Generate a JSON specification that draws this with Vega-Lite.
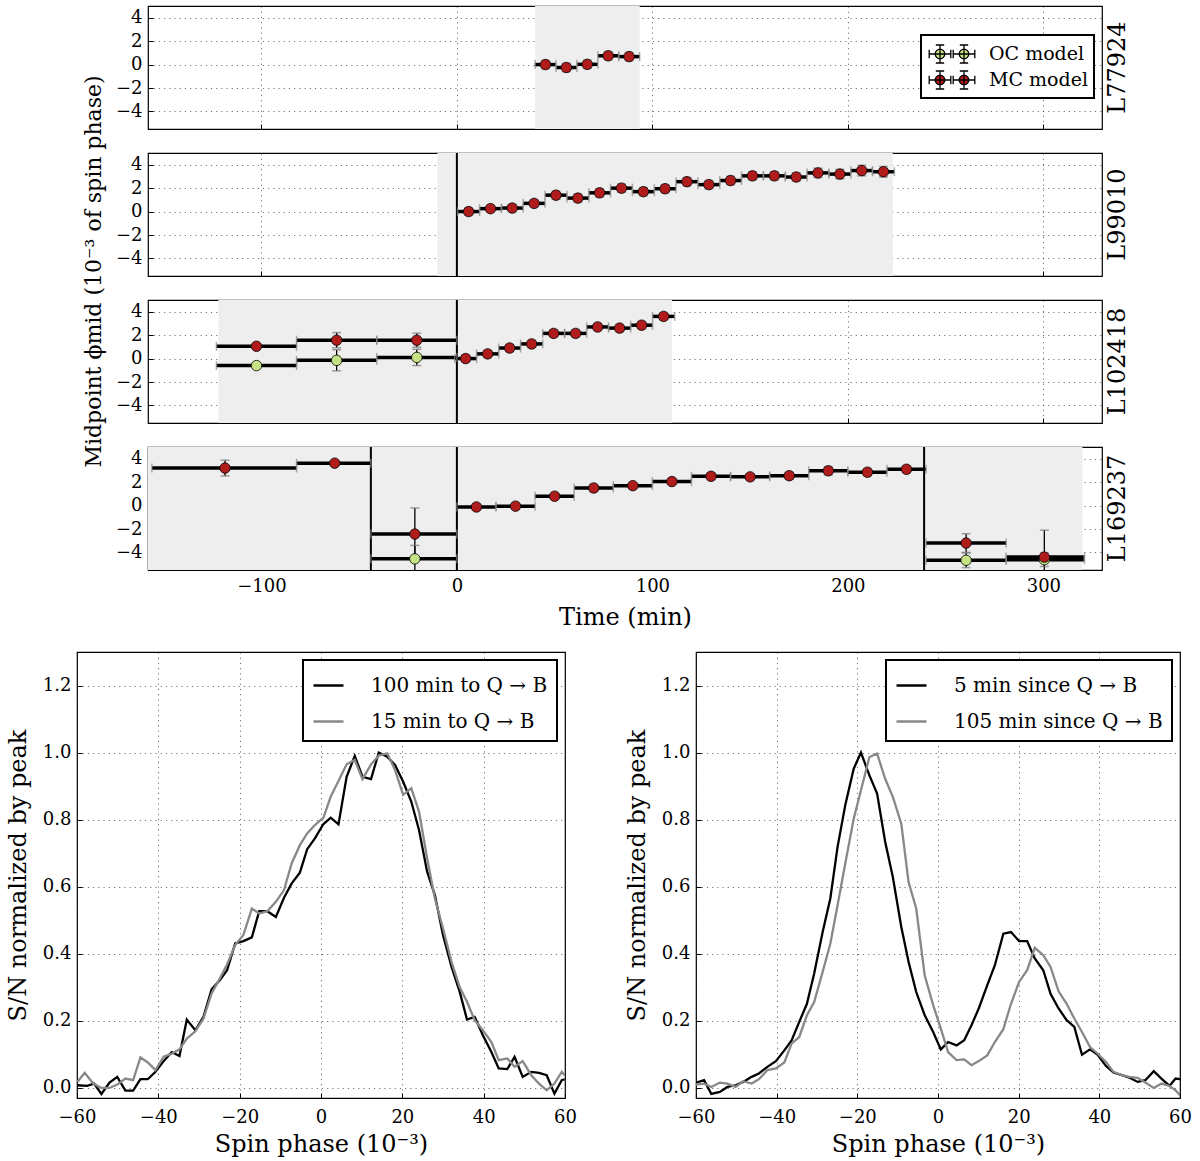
{
"$schema":"https://vega.github.io/schema/vega-lite/v6.json",
"padding":{"left":5,"top":5,"right":0,"bottom":0},
"config":{
 "font":"DejaVu Serif",
 "view":{"stroke":"black","strokeWidth":1.2},
 "style":{"guide-label":{"font":"DejaVu Serif","fontSize":18,"fill":"black"},"guide-title":{"font":"DejaVu Serif","fontSize":24,"fill":"black","fontWeight":"normal"}},
 "axis":{"grid":true,"gridColor":"#000","gridOpacity":0.55,"gridDash":[1.2,4],"gridWidth":1,"domain":false,"tickColor":"black","tickSize":-5,"labelOverlap":false,"labelFlush":false,"labelFont":"DejaVu Serif","titleFont":"DejaVu Serif","labelFontSize":18,"titleFontSize":24,"labelColor":"black","titleColor":"black","titleFontWeight":"normal"},
 "axisX":{"labelFont":"DejaVu Serif","labelFontSize":18,"labelOverlap":false,"labelFlush":false,"labelPadding":12},
 "axisY":{"labelFont":"DejaVu Serif","labelFontSize":18,"labelOverlap":false,"labelPadding":11},
 "legend":{"labelFont":"DejaVu Serif","labelColor":"black","strokeWidth":2,"labelLimit":400},
 "title":{"font":"DejaVu Serif","fontSize":24,"fontWeight":"normal","color":"black"}
},
"datasets":{
"top":[
{"run":"L77924","kind":"shade","t0":40,"t1":93.5},
{"run":"L99010","kind":"shade","t0":-10,"t1":223},
{"run":"L102418","kind":"shade","t0":-122,"t1":110},
{"run":"L169237","kind":"shade","t0":-160,"t1":320},
{"run":"L99010","kind":"vline","t":0},
{"run":"L102418","kind":"vline","t":0},
{"run":"L169237","kind":"vline","t":-44},
{"run":"L169237","kind":"vline","t":0},
{"run":"L169237","kind":"vline","t":239},
{"run":"L77924","kind":"pt","model":"MC model","t":45.3,"t0":40,"t1":50.7,"y":0.0,"ylo":-0.35,"yhi":0.35},
{"run":"L77924","kind":"pt","model":"MC model","t":56.0,"t0":50.7,"t1":61.4,"y":-0.25,"ylo":-0.6,"yhi":0.1},
{"run":"L77924","kind":"pt","model":"MC model","t":66.7,"t0":61.4,"t1":72.1,"y":0.02,"ylo":-0.33,"yhi":0.37},
{"run":"L77924","kind":"pt","model":"MC model","t":77.4,"t0":72.1,"t1":82.8,"y":0.75,"ylo":0.4,"yhi":1.1},
{"run":"L77924","kind":"pt","model":"MC model","t":88.1,"t0":82.8,"t1":93.5,"y":0.68,"ylo":0.33,"yhi":1.03},
{"run":"L99010","kind":"pt","model":"MC model","t":6.0,"t0":0.4,"t1":11.6,"y":0.0,"ylo":-0.3,"yhi":0.3},
{"run":"L99010","kind":"pt","model":"MC model","t":17.2,"t0":11.6,"t1":22.8,"y":0.25,"ylo":-0.05,"yhi":0.55},
{"run":"L99010","kind":"pt","model":"MC model","t":28.3,"t0":22.8,"t1":33.9,"y":0.3,"ylo":0.0,"yhi":0.6},
{"run":"L99010","kind":"pt","model":"MC model","t":39.5,"t0":33.9,"t1":45.1,"y":0.7,"ylo":0.4,"yhi":1.0},
{"run":"L99010","kind":"pt","model":"MC model","t":50.7,"t0":45.1,"t1":56.3,"y":1.4,"ylo":1.05,"yhi":1.75},
{"run":"L99010","kind":"pt","model":"MC model","t":61.9,"t0":56.3,"t1":67.5,"y":1.15,"ylo":0.8,"yhi":1.5},
{"run":"L99010","kind":"pt","model":"MC model","t":73.0,"t0":67.5,"t1":78.6,"y":1.6,"ylo":1.25,"yhi":1.95},
{"run":"L99010","kind":"pt","model":"MC model","t":84.2,"t0":78.6,"t1":89.8,"y":2.0,"ylo":1.65,"yhi":2.35},
{"run":"L99010","kind":"pt","model":"MC model","t":95.4,"t0":89.8,"t1":101.0,"y":1.7,"ylo":1.35,"yhi":2.05},
{"run":"L99010","kind":"pt","model":"MC model","t":106.5,"t0":101.0,"t1":112.1,"y":1.95,"ylo":1.6,"yhi":2.3},
{"run":"L99010","kind":"pt","model":"MC model","t":117.7,"t0":112.1,"t1":123.3,"y":2.55,"ylo":2.2,"yhi":2.9},
{"run":"L99010","kind":"pt","model":"MC model","t":128.9,"t0":123.3,"t1":134.5,"y":2.3,"ylo":1.95,"yhi":2.65},
{"run":"L99010","kind":"pt","model":"MC model","t":140.0,"t0":134.5,"t1":145.6,"y":2.65,"ylo":2.3,"yhi":3.0},
{"run":"L99010","kind":"pt","model":"MC model","t":151.2,"t0":145.6,"t1":156.8,"y":3.05,"ylo":2.7,"yhi":3.4},
{"run":"L99010","kind":"pt","model":"MC model","t":162.4,"t0":156.8,"t1":168.0,"y":3.05,"ylo":2.7,"yhi":3.4},
{"run":"L99010","kind":"pt","model":"MC model","t":173.6,"t0":168.0,"t1":179.1,"y":2.95,"ylo":2.6,"yhi":3.3},
{"run":"L99010","kind":"pt","model":"MC model","t":184.7,"t0":179.1,"t1":190.3,"y":3.3,"ylo":2.9,"yhi":3.7},
{"run":"L99010","kind":"pt","model":"MC model","t":195.9,"t0":190.3,"t1":201.5,"y":3.2,"ylo":2.8,"yhi":3.6},
{"run":"L99010","kind":"pt","model":"MC model","t":207.1,"t0":201.5,"t1":212.6,"y":3.5,"ylo":3.05,"yhi":3.95},
{"run":"L99010","kind":"pt","model":"MC model","t":218.2,"t0":212.6,"t1":223.8,"y":3.4,"ylo":2.95,"yhi":3.85},
{"run":"L102418","kind":"pt","model":"OC model","t":-102.5,"t0":-123,"t1":-82,"y":-0.6,"ylo":-0.85,"yhi":-0.35},
{"run":"L102418","kind":"pt","model":"OC model","t":-61.5,"t0":-82,"t1":-41,"y":-0.15,"ylo":-1.05,"yhi":0.75},
{"run":"L102418","kind":"pt","model":"OC model","t":-20.5,"t0":-41,"t1":0,"y":0.1,"ylo":-0.6,"yhi":0.8},
{"run":"L102418","kind":"pt","model":"MC model","t":-102.5,"t0":-123,"t1":-82,"y":1.05,"ylo":0.85,"yhi":1.25},
{"run":"L102418","kind":"pt","model":"MC model","t":-61.5,"t0":-82,"t1":-41,"y":1.57,"ylo":0.92,"yhi":2.22},
{"run":"L102418","kind":"pt","model":"MC model","t":-20.5,"t0":-41,"t1":0,"y":1.57,"ylo":0.97,"yhi":2.17},
{"run":"L102418","kind":"pt","model":"MC model","t":4.5,"t0":-1.1,"t1":10.1,"y":0.0,"ylo":-0.3,"yhi":0.3},
{"run":"L102418","kind":"pt","model":"MC model","t":15.75,"t0":10.1,"t1":21.4,"y":0.4,"ylo":0.1,"yhi":0.7},
{"run":"L102418","kind":"pt","model":"MC model","t":27.0,"t0":21.4,"t1":32.6,"y":0.9,"ylo":0.6,"yhi":1.2},
{"run":"L102418","kind":"pt","model":"MC model","t":38.25,"t0":32.6,"t1":43.9,"y":1.25,"ylo":0.95,"yhi":1.55},
{"run":"L102418","kind":"pt","model":"MC model","t":49.5,"t0":43.9,"t1":55.1,"y":2.15,"ylo":1.85,"yhi":2.45},
{"run":"L102418","kind":"pt","model":"MC model","t":60.75,"t0":55.1,"t1":66.4,"y":2.15,"ylo":1.85,"yhi":2.45},
{"run":"L102418","kind":"pt","model":"MC model","t":72.0,"t0":66.4,"t1":77.6,"y":2.7,"ylo":2.4,"yhi":3.0},
{"run":"L102418","kind":"pt","model":"MC model","t":83.25,"t0":77.6,"t1":88.9,"y":2.6,"ylo":2.3,"yhi":2.9},
{"run":"L102418","kind":"pt","model":"MC model","t":94.5,"t0":88.9,"t1":100.1,"y":2.85,"ylo":2.55,"yhi":3.15},
{"run":"L102418","kind":"pt","model":"MC model","t":105.75,"t0":100.1,"t1":111.4,"y":3.6,"ylo":3.3,"yhi":3.9},
{"run":"L169237","kind":"pt","model":"OC model","t":-21.5,"t0":-44,"t1":0,"y":-4.55,"ylo":-5.7,"yhi":-3.4},
{"run":"L169237","kind":"pt","model":"OC model","t":260.5,"t0":240,"t1":281,"y":-4.67,"ylo":-5.3,"yhi":-4.04},
{"run":"L169237","kind":"pt","model":"OC model","t":300.5,"t0":281,"t1":321,"y":-4.62,"ylo":-5.2,"yhi":-4.04},
{"run":"L169237","kind":"pt","model":"MC model","t":-118.6,"t0":-156,"t1":-82,"y":3.2,"ylo":2.53,"yhi":3.87},
{"run":"L169237","kind":"pt","model":"MC model","t":-62.5,"t0":-82,"t1":-44,"y":3.62,"ylo":3.42,"yhi":3.82},
{"run":"L169237","kind":"pt","model":"MC model","t":-21.5,"t0":-44,"t1":0,"y":-2.43,"ylo":-4.66,"yhi":-0.2},
{"run":"L169237","kind":"pt","model":"MC model","t":10,"t0":0,"t1":20,"y":-0.12,"ylo":-0.37,"yhi":0.13},
{"run":"L169237","kind":"pt","model":"MC model","t":30,"t0":20,"t1":40,"y":-0.05,"ylo":-0.3,"yhi":0.2},
{"run":"L169237","kind":"pt","model":"MC model","t":50,"t0":40,"t1":60,"y":0.8,"ylo":0.55,"yhi":1.05},
{"run":"L169237","kind":"pt","model":"MC model","t":70,"t0":60,"t1":80,"y":1.5,"ylo":1.2,"yhi":1.8},
{"run":"L169237","kind":"pt","model":"MC model","t":90,"t0":80,"t1":100,"y":1.7,"ylo":1.45,"yhi":1.95},
{"run":"L169237","kind":"pt","model":"MC model","t":110,"t0":100,"t1":120,"y":2.05,"ylo":1.8,"yhi":2.3},
{"run":"L169237","kind":"pt","model":"MC model","t":130,"t0":120,"t1":140,"y":2.5,"ylo":2.2,"yhi":2.8},
{"run":"L169237","kind":"pt","model":"MC model","t":150,"t0":140,"t1":160,"y":2.45,"ylo":2.2,"yhi":2.7},
{"run":"L169237","kind":"pt","model":"MC model","t":170,"t0":160,"t1":180,"y":2.55,"ylo":2.25,"yhi":2.85},
{"run":"L169237","kind":"pt","model":"MC model","t":190,"t0":180,"t1":200,"y":2.97,"ylo":2.62,"yhi":3.32},
{"run":"L169237","kind":"pt","model":"MC model","t":210,"t0":200,"t1":220,"y":2.85,"ylo":2.55,"yhi":3.15},
{"run":"L169237","kind":"pt","model":"MC model","t":230,"t0":220,"t1":240,"y":3.1,"ylo":2.8,"yhi":3.4},
{"run":"L169237","kind":"pt","model":"MC model","t":260.5,"t0":240,"t1":281,"y":-3.2,"ylo":-4.0,"yhi":-2.4},
{"run":"L169237","kind":"pt","model":"MC model","t":300.5,"t0":281,"t1":321,"y":-4.4,"ylo":-6.7,"yhi":-2.1}
],
"left":[
{"s":"100 min to Q → B","p":-59.9,"v":0.008},{"s":"100 min to Q → B","p":-57.5,"v":0.006},{"s":"100 min to Q → B","p":-55.8,"v":0.013},{"s":"100 min to Q → B","p":-54.0,"v":-0.018},{"s":"100 min to Q → B","p":-52.0,"v":0.016},{"s":"100 min to Q → B","p":-50.1,"v":0.033},{"s":"100 min to Q → B","p":-48.1,"v":-0.008},{"s":"100 min to Q → B","p":-46.2,"v":-0.008},{"s":"100 min to Q → B","p":-44.4,"v":0.026},{"s":"100 min to Q → B","p":-42.6,"v":0.026},{"s":"100 min to Q → B","p":-40.7,"v":0.048},{"s":"100 min to Q → B","p":-38.7,"v":0.080},{"s":"100 min to Q → B","p":-36.7,"v":0.107},{"s":"100 min to Q → B","p":-34.8,"v":0.095},{"s":"100 min to Q → B","p":-33.0,"v":0.204},{"s":"100 min to Q → B","p":-30.9,"v":0.172},{"s":"100 min to Q → B","p":-28.9,"v":0.212},{"s":"100 min to Q → B","p":-26.9,"v":0.294},{"s":"100 min to Q → B","p":-24.9,"v":0.321},{"s":"100 min to Q → B","p":-23.1,"v":0.351},{"s":"100 min to Q → B","p":-21.1,"v":0.431},{"s":"100 min to Q → B","p":-19.1,"v":0.438},{"s":"100 min to Q → B","p":-17.0,"v":0.449},{"s":"100 min to Q → B","p":-15.2,"v":0.527},{"s":"100 min to Q → B","p":-13.2,"v":0.527},{"s":"100 min to Q → B","p":-11.1,"v":0.510},{"s":"100 min to Q → B","p":-9.1,"v":0.567},{"s":"100 min to Q → B","p":-7.2,"v":0.610},{"s":"100 min to Q → B","p":-5.2,"v":0.642},{"s":"100 min to Q → B","p":-3.4,"v":0.712},{"s":"100 min to Q → B","p":-1.5,"v":0.744},{"s":"100 min to Q → B","p":0.6,"v":0.787},{"s":"100 min to Q → B","p":2.4,"v":0.806},{"s":"100 min to Q → B","p":4.3,"v":0.786},{"s":"100 min to Q → B","p":6.3,"v":0.928},{"s":"100 min to Q → B","p":8.3,"v":0.990},{"s":"100 min to Q → B","p":10.2,"v":0.928},{"s":"100 min to Q → B","p":12.3,"v":0.921},{"s":"100 min to Q → B","p":14.2,"v":1.000},{"s":"100 min to Q → B","p":16.3,"v":0.988},{"s":"100 min to Q → B","p":18.2,"v":0.963},{"s":"100 min to Q → B","p":20.2,"v":0.913},{"s":"100 min to Q → B","p":22.2,"v":0.854},{"s":"100 min to Q → B","p":24.1,"v":0.769},{"s":"100 min to Q → B","p":26.1,"v":0.645},{"s":"100 min to Q → B","p":28.0,"v":0.575},{"s":"100 min to Q → B","p":30.0,"v":0.456},{"s":"100 min to Q → B","p":32.1,"v":0.361},{"s":"100 min to Q → B","p":34.1,"v":0.287},{"s":"100 min to Q → B","p":35.9,"v":0.204},{"s":"100 min to Q → B","p":37.8,"v":0.212},{"s":"100 min to Q → B","p":39.8,"v":0.157},{"s":"100 min to Q → B","p":41.9,"v":0.107},{"s":"100 min to Q → B","p":43.7,"v":0.058},{"s":"100 min to Q → B","p":45.8,"v":0.056},{"s":"100 min to Q → B","p":47.6,"v":0.093},{"s":"100 min to Q → B","p":49.6,"v":0.033},{"s":"100 min to Q → B","p":51.7,"v":0.048},{"s":"100 min to Q → B","p":53.6,"v":0.045},{"s":"100 min to Q → B","p":55.5,"v":0.038},{"s":"100 min to Q → B","p":57.4,"v":-0.017},{"s":"100 min to Q → B","p":59.2,"v":0.023},{"s":"100 min to Q → B","p":59.9,"v":0.026},
{"s":"15 min to Q → B","p":-59.9,"v":0.018},{"s":"15 min to Q → B","p":-58.1,"v":0.045},{"s":"15 min to Q → B","p":-56.0,"v":0.013},{"s":"15 min to Q → B","p":-54.0,"v":0.0},{"s":"15 min to Q → B","p":-52.0,"v":0.0},{"s":"15 min to Q → B","p":-50.1,"v":0.01},{"s":"15 min to Q → B","p":-48.1,"v":0.028},{"s":"15 min to Q → B","p":-46.2,"v":0.023},{"s":"15 min to Q → B","p":-44.4,"v":0.091},{"s":"15 min to Q → B","p":-42.6,"v":0.076},{"s":"15 min to Q → B","p":-40.7,"v":0.053},{"s":"15 min to Q → B","p":-38.7,"v":0.093},{"s":"15 min to Q → B","p":-36.7,"v":0.102},{"s":"15 min to Q → B","p":-34.8,"v":0.115},{"s":"15 min to Q → B","p":-33.0,"v":0.147},{"s":"15 min to Q → B","p":-30.9,"v":0.169},{"s":"15 min to Q → B","p":-28.9,"v":0.207},{"s":"15 min to Q → B","p":-26.9,"v":0.282},{"s":"15 min to Q → B","p":-24.9,"v":0.326},{"s":"15 min to Q → B","p":-23.1,"v":0.368},{"s":"15 min to Q → B","p":-21.1,"v":0.426},{"s":"15 min to Q → B","p":-19.1,"v":0.456},{"s":"15 min to Q → B","p":-17.0,"v":0.535},{"s":"15 min to Q → B","p":-15.2,"v":0.520},{"s":"15 min to Q → B","p":-13.2,"v":0.527},{"s":"15 min to Q → B","p":-11.1,"v":0.555},{"s":"15 min to Q → B","p":-9.1,"v":0.590},{"s":"15 min to Q → B","p":-7.2,"v":0.670},{"s":"15 min to Q → B","p":-5.2,"v":0.724},{"s":"15 min to Q → B","p":-3.4,"v":0.759},{"s":"15 min to Q → B","p":-1.5,"v":0.784},{"s":"15 min to Q → B","p":0.6,"v":0.806},{"s":"15 min to Q → B","p":2.4,"v":0.869},{"s":"15 min to Q → B","p":4.3,"v":0.915},{"s":"15 min to Q → B","p":6.3,"v":0.965},{"s":"15 min to Q → B","p":8.3,"v":0.978},{"s":"15 min to Q → B","p":10.2,"v":0.921},{"s":"15 min to Q → B","p":12.3,"v":0.965},{"s":"15 min to Q → B","p":14.2,"v":0.991},{"s":"15 min to Q → B","p":16.3,"v":0.998},{"s":"15 min to Q → B","p":18.2,"v":0.948},{"s":"15 min to Q → B","p":20.2,"v":0.874},{"s":"15 min to Q → B","p":22.2,"v":0.894},{"s":"15 min to Q → B","p":24.1,"v":0.824},{"s":"15 min to Q → B","p":26.1,"v":0.685},{"s":"15 min to Q → B","p":28.0,"v":0.565},{"s":"15 min to Q → B","p":30.0,"v":0.476},{"s":"15 min to Q → B","p":32.1,"v":0.376},{"s":"15 min to Q → B","p":34.1,"v":0.301},{"s":"15 min to Q → B","p":35.9,"v":0.257},{"s":"15 min to Q → B","p":37.8,"v":0.202},{"s":"15 min to Q → B","p":39.8,"v":0.172},{"s":"15 min to Q → B","p":41.9,"v":0.137},{"s":"15 min to Q → B","p":43.7,"v":0.083},{"s":"15 min to Q → B","p":45.8,"v":0.088},{"s":"15 min to Q → B","p":47.6,"v":0.063},{"s":"15 min to Q → B","p":49.6,"v":0.080},{"s":"15 min to Q → B","p":51.7,"v":0.038},{"s":"15 min to Q → B","p":53.6,"v":0.013},{"s":"15 min to Q → B","p":55.5,"v":-0.007},{"s":"15 min to Q → B","p":57.4,"v":0.013},{"s":"15 min to Q → B","p":59.2,"v":0.048},{"s":"15 min to Q → B","p":59.9,"v":0.038}
],
"right":[
{"s":"5 min since Q → B","p":-60,"v":0.016},{"s":"5 min since Q → B","p":-58.0,"v":0.023},{"s":"5 min since Q → B","p":-56.2,"v":-0.018},{"s":"5 min since Q → B","p":-54.1,"v":-0.012},{"s":"5 min since Q → B","p":-52.2,"v":0.003},{"s":"5 min since Q → B","p":-50.2,"v":0.008},{"s":"5 min since Q → B","p":-48.3,"v":0.018},{"s":"5 min since Q → B","p":-46.2,"v":0.033},{"s":"5 min since Q → B","p":-44.4,"v":0.043},{"s":"5 min since Q → B","p":-42.3,"v":0.063},{"s":"5 min since Q → B","p":-40.2,"v":0.080},{"s":"5 min since Q → B","p":-38.1,"v":0.112},{"s":"5 min since Q → B","p":-36.3,"v":0.142},{"s":"5 min since Q → B","p":-34.4,"v":0.197},{"s":"5 min since Q → B","p":-32.5,"v":0.251},{"s":"5 min since Q → B","p":-30.7,"v":0.341},{"s":"5 min since Q → B","p":-28.6,"v":0.465},{"s":"5 min since Q → B","p":-26.7,"v":0.565},{"s":"5 min since Q → B","p":-24.9,"v":0.719},{"s":"5 min since Q → B","p":-23.0,"v":0.843},{"s":"5 min since Q → B","p":-20.9,"v":0.952},{"s":"5 min since Q → B","p":-19.1,"v":1.0},{"s":"5 min since Q → B","p":-17.0,"v":0.932},{"s":"5 min since Q → B","p":-15.1,"v":0.878},{"s":"5 min since Q → B","p":-13.1,"v":0.734},{"s":"5 min since Q → B","p":-11.2,"v":0.629},{"s":"5 min since Q → B","p":-9.1,"v":0.480},{"s":"5 min since Q → B","p":-7.3,"v":0.376},{"s":"5 min since Q → B","p":-5.4,"v":0.286},{"s":"5 min since Q → B","p":-3.3,"v":0.217},{"s":"5 min since Q → B","p":-1.2,"v":0.167},{"s":"5 min since Q → B","p":0.7,"v":0.115},{"s":"5 min since Q → B","p":2.5,"v":0.137},{"s":"5 min since Q → B","p":4.6,"v":0.127},{"s":"5 min since Q → B","p":6.5,"v":0.142},{"s":"5 min since Q → B","p":8.3,"v":0.187},{"s":"5 min since Q → B","p":10.1,"v":0.237},{"s":"5 min since Q → B","p":12.2,"v":0.306},{"s":"5 min since Q → B","p":14.1,"v":0.366},{"s":"5 min since Q → B","p":16.2,"v":0.460},{"s":"5 min since Q → B","p":18.1,"v":0.465},{"s":"5 min since Q → B","p":20.1,"v":0.438},{"s":"5 min since Q → B","p":22.1,"v":0.438},{"s":"5 min since Q → B","p":24.0,"v":0.386},{"s":"5 min since Q → B","p":26.1,"v":0.351},{"s":"5 min since Q → B","p":27.9,"v":0.281},{"s":"5 min since Q → B","p":29.9,"v":0.237},{"s":"5 min since Q → B","p":31.9,"v":0.202},{"s":"5 min since Q → B","p":33.8,"v":0.182},{"s":"5 min since Q → B","p":35.7,"v":0.099},{"s":"5 min since Q → B","p":37.7,"v":0.115},{"s":"5 min since Q → B","p":39.6,"v":0.099},{"s":"5 min since Q → B","p":41.6,"v":0.066},{"s":"5 min since Q → B","p":43.5,"v":0.046},{"s":"5 min since Q → B","p":45.6,"v":0.038},{"s":"5 min since Q → B","p":47.4,"v":0.031},{"s":"5 min since Q → B","p":49.5,"v":0.018},{"s":"5 min since Q → B","p":51.4,"v":0.023},{"s":"5 min since Q → B","p":53.5,"v":0.050},{"s":"5 min since Q → B","p":55.4,"v":0.028},{"s":"5 min since Q → B","p":57.4,"v":0.006},{"s":"5 min since Q → B","p":58.9,"v":0.028},{"s":"5 min since Q → B","p":60,"v":0.026},
{"s":"105 min since Q → B","p":-60,"v":0.010},{"s":"105 min since Q → B","p":-58.0,"v":0.013},{"s":"105 min since Q → B","p":-56.2,"v":0.003},{"s":"105 min since Q → B","p":-54.1,"v":0.016},{"s":"105 min since Q → B","p":-52.2,"v":0.013},{"s":"105 min since Q → B","p":-50.2,"v":0.003},{"s":"105 min since Q → B","p":-48.3,"v":0.020},{"s":"105 min since Q → B","p":-46.2,"v":0.013},{"s":"105 min since Q → B","p":-44.4,"v":0.026},{"s":"105 min since Q → B","p":-42.3,"v":0.053},{"s":"105 min since Q → B","p":-40.2,"v":0.058},{"s":"105 min since Q → B","p":-38.1,"v":0.076},{"s":"105 min since Q → B","p":-36.3,"v":0.132},{"s":"105 min since Q → B","p":-34.4,"v":0.152},{"s":"105 min since Q → B","p":-32.5,"v":0.217},{"s":"105 min since Q → B","p":-30.7,"v":0.256},{"s":"105 min since Q → B","p":-28.6,"v":0.346},{"s":"105 min since Q → B","p":-26.7,"v":0.430},{"s":"105 min since Q → B","p":-24.9,"v":0.545},{"s":"105 min since Q → B","p":-23.0,"v":0.669},{"s":"105 min since Q → B","p":-20.9,"v":0.803},{"s":"105 min since Q → B","p":-19.1,"v":0.888},{"s":"105 min since Q → B","p":-17.0,"v":0.987},{"s":"105 min since Q → B","p":-15.1,"v":0.997},{"s":"105 min since Q → B","p":-13.1,"v":0.922},{"s":"105 min since Q → B","p":-11.2,"v":0.868},{"s":"105 min since Q → B","p":-9.1,"v":0.788},{"s":"105 min since Q → B","p":-7.3,"v":0.614},{"s":"105 min since Q → B","p":-5.4,"v":0.535},{"s":"105 min since Q → B","p":-3.3,"v":0.336},{"s":"105 min since Q → B","p":-1.2,"v":0.247},{"s":"105 min since Q → B","p":0.7,"v":0.177},{"s":"105 min since Q → B","p":2.5,"v":0.107},{"s":"105 min since Q → B","p":4.6,"v":0.083},{"s":"105 min since Q → B","p":6.5,"v":0.085},{"s":"105 min since Q → B","p":8.3,"v":0.068},{"s":"105 min since Q → B","p":10.1,"v":0.080},{"s":"105 min since Q → B","p":12.2,"v":0.097},{"s":"105 min since Q → B","p":14.1,"v":0.137},{"s":"105 min since Q → B","p":16.2,"v":0.175},{"s":"105 min since Q → B","p":18.1,"v":0.251},{"s":"105 min since Q → B","p":20.1,"v":0.316},{"s":"105 min since Q → B","p":22.1,"v":0.351},{"s":"105 min since Q → B","p":24.0,"v":0.418},{"s":"105 min since Q → B","p":26.1,"v":0.396},{"s":"105 min since Q → B","p":27.9,"v":0.361},{"s":"105 min since Q → B","p":29.9,"v":0.288},{"s":"105 min since Q → B","p":31.9,"v":0.251},{"s":"105 min since Q → B","p":33.8,"v":0.207},{"s":"105 min since Q → B","p":35.7,"v":0.167},{"s":"105 min since Q → B","p":37.7,"v":0.122},{"s":"105 min since Q → B","p":39.6,"v":0.102},{"s":"105 min since Q → B","p":41.6,"v":0.078},{"s":"105 min since Q → B","p":43.5,"v":0.048},{"s":"105 min since Q → B","p":45.6,"v":0.038},{"s":"105 min since Q → B","p":47.4,"v":0.033},{"s":"105 min since Q → B","p":49.5,"v":0.030},{"s":"105 min since Q → B","p":51.4,"v":0.016},{"s":"105 min since Q → B","p":53.5,"v":0.0},{"s":"105 min since Q → B","p":55.4,"v":0.013},{"s":"105 min since Q → B","p":57.4,"v":0.006},{"s":"105 min since Q → B","p":58.9,"v":-0.007},{"s":"105 min since Q → B","p":60,"v":-0.022}
]
},
"vconcat":[
 {"hconcat":[
  {"width":1,"height":10,"data":{"values":[{"a":1}]},"mark":{"type":"point","opacity":0},"view":{"stroke":null}},
  {"vconcat":[
   {"width":954,"height":123,"data":{"name":"top"},"transform":[{"filter":"datum.run==='L77924'"}],
    "title":{"text":"L77924","orient":"right","angle":270,"offset":-20},
    "layer":[
     {"transform":[{"filter":"datum.kind==='shade'"}],"mark":{"type":"rect","color":"#eeeeee","clip":true},"encoding":{"x":{"field":"t0","type":"quantitative","scale":{"domain":[-158,330],"nice":false,"zero":false},"axis":{"values":[-100,0,100,200,300],"labels":false,"title":null}},"x2":{"field":"t1"}}},
     {"transform":[{"filter":"datum.kind==='vline'"}],"mark":{"type":"rule","color":"black","strokeWidth":2,"clip":true},"encoding":{"x":{"field":"t","type":"quantitative","axis":{"values":[-100,0,100,200,300],"labels":false,"title":null}}}},
     {"transform":[{"filter":"datum.kind==='pt'"}],"mark":{"type":"rule","color":"black","strokeWidth":3.5,"clip":true},"encoding":{"x":{"field":"t0","type":"quantitative","axis":{"values":[-100,0,100,200,300],"labels":false,"title":null}},"x2":{"field":"t1"},"y":{"field":"y","type":"quantitative","scale":{"domain":[-5.5,5],"nice":false,"zero":false},"axis":{"values":[-4,-2,0,2,4],"title":null,"labelOverlap":false}}}},
     {"transform":[{"filter":"datum.kind==='pt'"}],"mark":{"type":"tick","orient":"vertical","color":"#888","size":9,"thickness":1.5,"clip":true},"encoding":{"x":{"field":"t0","type":"quantitative","axis":{"values":[-100,0,100,200,300],"labels":false,"title":null}},"y":{"field":"y","type":"quantitative","axis":{"values":[-4,-2,0,2,4],"title":null,"labelOverlap":false}}}},
     {"transform":[{"filter":"datum.kind==='pt'"}],"mark":{"type":"tick","orient":"vertical","color":"#888","size":9,"thickness":1.5,"clip":true},"encoding":{"x":{"field":"t1","type":"quantitative","axis":{"values":[-100,0,100,200,300],"labels":false,"title":null}},"y":{"field":"y","type":"quantitative","axis":{"values":[-4,-2,0,2,4],"title":null,"labelOverlap":false}}}},
     {"transform":[{"filter":"datum.kind==='pt'"}],"mark":{"type":"rule","color":"black","strokeWidth":1.3,"clip":true},"encoding":{"x":{"field":"t","type":"quantitative","axis":{"values":[-100,0,100,200,300],"labels":false,"title":null}},"y":{"field":"ylo","type":"quantitative","axis":{"values":[-4,-2,0,2,4],"title":null,"labelOverlap":false}},"y2":{"field":"yhi"}}},
     {"transform":[{"filter":"datum.kind==='pt'"}],"mark":{"type":"tick","orient":"horizontal","color":"#777","size":9,"thickness":1.5,"clip":true},"encoding":{"x":{"field":"t","type":"quantitative","axis":{"values":[-100,0,100,200,300],"labels":false,"title":null}},"y":{"field":"ylo","type":"quantitative","axis":{"values":[-4,-2,0,2,4],"title":null,"labelOverlap":false}}}},
     {"transform":[{"filter":"datum.kind==='pt'"}],"mark":{"type":"tick","orient":"horizontal","color":"#777","size":9,"thickness":1.5,"clip":true},"encoding":{"x":{"field":"t","type":"quantitative","axis":{"values":[-100,0,100,200,300],"labels":false,"title":null}},"y":{"field":"yhi","type":"quantitative","axis":{"values":[-4,-2,0,2,4],"title":null,"labelOverlap":false}}}},
     {"transform":[{"filter":"datum.kind==='pt'"}],"mark":{"type":"point","filled":true,"shape":"circle","size":110,"stroke":"black","strokeWidth":0.8,"opacity":1,"clip":true},"encoding":{"x":{"field":"t","type":"quantitative","axis":{"values":[-100,0,100,200,300],"labels":false,"title":null}},"y":{"field":"y","type":"quantitative","axis":{"values":[-4,-2,0,2,4],"title":null,"labelOverlap":false}},
       "color":{"field":"model","type":"nominal","scale":{"domain":["OC model","MC model"],"range":["#c5e384","#b01c1c"]},
        "legend":{"title":null,"orient":"none","legendX":773,"legendY":29,"symbolType":"M-0.9,0L0.9,0M0,-0.75L0,0.75M-0.9,-0.35L-0.9,0.35M0.9,-0.35L0.9,0.35M-0.35,-0.75L0.35,-0.75M-0.35,0.75L0.35,0.75M0.4,0A0.4,0.4,0,1,1,-0.4,0A0.4,0.4,0,1,1,0.4,0ZM1.1,0L2.9,0M2,-0.75L2,0.75M1.1,-0.35L1.1,0.35M2.9,-0.35L2.9,0.35M1.65,-0.75L2.35,-0.75M1.65,0.75L2.35,0.75M2.4,0A0.4,0.4,0,1,1,1.6,0A0.4,0.4,0,1,1,2.4,0Z","symbolSize":576,"symbolStrokeColor":"black","symbolStrokeWidth":1.3,"symbolOpacity":1,"labelFontSize":19,"labelOffset":36,"rowPadding":1,"padding":6,"strokeColor":"black","fillColor":"white"}}}}
    ]},
   {"width":954,"height":123,"data":{"name":"top"},"transform":[{"filter":"datum.run==='L99010'"}],
    "title":{"text":"L99010","orient":"right","angle":270,"offset":-20},
    "layer":[
     {"transform":[{"filter":"datum.kind==='shade'"}],"mark":{"type":"rect","color":"#eeeeee","clip":true},"encoding":{"x":{"field":"t0","type":"quantitative","scale":{"domain":[-158,330],"nice":false,"zero":false},"axis":{"values":[-100,0,100,200,300],"labels":false,"title":null}},"x2":{"field":"t1"}}},
     {"transform":[{"filter":"datum.kind==='vline'"}],"mark":{"type":"rule","color":"black","strokeWidth":2,"clip":true},"encoding":{"x":{"field":"t","type":"quantitative","axis":{"values":[-100,0,100,200,300],"labels":false,"title":null}}}},
     {"transform":[{"filter":"datum.kind==='pt'"}],"mark":{"type":"rule","color":"black","strokeWidth":3.5,"clip":true},"encoding":{"x":{"field":"t0","type":"quantitative","axis":{"values":[-100,0,100,200,300],"labels":false,"title":null}},"x2":{"field":"t1"},"y":{"field":"y","type":"quantitative","scale":{"domain":[-5.5,5],"nice":false,"zero":false},"axis":{"values":[-4,-2,0,2,4],"labelOverlap":false,"title":"Midpoint ϕmid (10⁻³ of spin phase)","titleFontSize":22,"titleY":118,"titlePadding":10}}}},
     {"transform":[{"filter":"datum.kind==='pt'"}],"mark":{"type":"tick","orient":"vertical","color":"#888","size":9,"thickness":1.5,"clip":true},"encoding":{"x":{"field":"t0","type":"quantitative","axis":{"values":[-100,0,100,200,300],"labels":false,"title":null}},"y":{"field":"y","type":"quantitative","axis":{"values":[-4,-2,0,2,4],"labelOverlap":false,"title":"Midpoint ϕmid (10⁻³ of spin phase)","titleFontSize":22,"titleY":118,"titlePadding":10}}}},
     {"transform":[{"filter":"datum.kind==='pt'"}],"mark":{"type":"tick","orient":"vertical","color":"#888","size":9,"thickness":1.5,"clip":true},"encoding":{"x":{"field":"t1","type":"quantitative","axis":{"values":[-100,0,100,200,300],"labels":false,"title":null}},"y":{"field":"y","type":"quantitative","axis":{"values":[-4,-2,0,2,4],"labelOverlap":false,"title":"Midpoint ϕmid (10⁻³ of spin phase)","titleFontSize":22,"titleY":118,"titlePadding":10}}}},
     {"transform":[{"filter":"datum.kind==='pt'"}],"mark":{"type":"rule","color":"black","strokeWidth":1.3,"clip":true},"encoding":{"x":{"field":"t","type":"quantitative","axis":{"values":[-100,0,100,200,300],"labels":false,"title":null}},"y":{"field":"ylo","type":"quantitative","axis":{"values":[-4,-2,0,2,4],"labelOverlap":false,"title":"Midpoint ϕmid (10⁻³ of spin phase)","titleFontSize":22,"titleY":118,"titlePadding":10}},"y2":{"field":"yhi"}}},
     {"transform":[{"filter":"datum.kind==='pt'"}],"mark":{"type":"tick","orient":"horizontal","color":"#777","size":9,"thickness":1.5,"clip":true},"encoding":{"x":{"field":"t","type":"quantitative","axis":{"values":[-100,0,100,200,300],"labels":false,"title":null}},"y":{"field":"ylo","type":"quantitative","axis":{"values":[-4,-2,0,2,4],"labelOverlap":false,"title":"Midpoint ϕmid (10⁻³ of spin phase)","titleFontSize":22,"titleY":118,"titlePadding":10}}}},
     {"transform":[{"filter":"datum.kind==='pt'"}],"mark":{"type":"tick","orient":"horizontal","color":"#777","size":9,"thickness":1.5,"clip":true},"encoding":{"x":{"field":"t","type":"quantitative","axis":{"values":[-100,0,100,200,300],"labels":false,"title":null}},"y":{"field":"yhi","type":"quantitative","axis":{"values":[-4,-2,0,2,4],"labelOverlap":false,"title":"Midpoint ϕmid (10⁻³ of spin phase)","titleFontSize":22,"titleY":118,"titlePadding":10}}}},
     {"transform":[{"filter":"datum.kind==='pt'"}],"mark":{"type":"point","filled":true,"shape":"circle","size":110,"stroke":"black","strokeWidth":0.8,"opacity":1,"clip":true},"encoding":{"x":{"field":"t","type":"quantitative","axis":{"values":[-100,0,100,200,300],"labels":false,"title":null}},"y":{"field":"y","type":"quantitative","axis":{"values":[-4,-2,0,2,4],"labelOverlap":false,"title":"Midpoint ϕmid (10⁻³ of spin phase)","titleFontSize":22,"titleY":118,"titlePadding":10}},
       "color":{"field":"model","type":"nominal","scale":{"domain":["OC model","MC model"],"range":["#c5e384","#b01c1c"]},"legend":null}}}
    ]},
   {"width":954,"height":123,"data":{"name":"top"},"transform":[{"filter":"datum.run==='L102418'"}],
    "title":{"text":"L102418","orient":"right","angle":270,"offset":-20},
    "layer":[
     {"transform":[{"filter":"datum.kind==='shade'"}],"mark":{"type":"rect","color":"#eeeeee","clip":true},"encoding":{"x":{"field":"t0","type":"quantitative","scale":{"domain":[-158,330],"nice":false,"zero":false},"axis":{"values":[-100,0,100,200,300],"labels":false,"title":null}},"x2":{"field":"t1"}}},
     {"transform":[{"filter":"datum.kind==='vline'"}],"mark":{"type":"rule","color":"black","strokeWidth":2,"clip":true},"encoding":{"x":{"field":"t","type":"quantitative","axis":{"values":[-100,0,100,200,300],"labels":false,"title":null}}}},
     {"transform":[{"filter":"datum.kind==='pt'"}],"mark":{"type":"rule","color":"black","strokeWidth":3.5,"clip":true},"encoding":{"x":{"field":"t0","type":"quantitative","axis":{"values":[-100,0,100,200,300],"labels":false,"title":null}},"x2":{"field":"t1"},"y":{"field":"y","type":"quantitative","scale":{"domain":[-5.5,5],"nice":false,"zero":false},"axis":{"values":[-4,-2,0,2,4],"title":null,"labelOverlap":false}}}},
     {"transform":[{"filter":"datum.kind==='pt'"}],"mark":{"type":"tick","orient":"vertical","color":"#888","size":9,"thickness":1.5,"clip":true},"encoding":{"x":{"field":"t0","type":"quantitative","axis":{"values":[-100,0,100,200,300],"labels":false,"title":null}},"y":{"field":"y","type":"quantitative","axis":{"values":[-4,-2,0,2,4],"title":null,"labelOverlap":false}}}},
     {"transform":[{"filter":"datum.kind==='pt'"}],"mark":{"type":"tick","orient":"vertical","color":"#888","size":9,"thickness":1.5,"clip":true},"encoding":{"x":{"field":"t1","type":"quantitative","axis":{"values":[-100,0,100,200,300],"labels":false,"title":null}},"y":{"field":"y","type":"quantitative","axis":{"values":[-4,-2,0,2,4],"title":null,"labelOverlap":false}}}},
     {"transform":[{"filter":"datum.kind==='pt'"}],"mark":{"type":"rule","color":"black","strokeWidth":1.3,"clip":true},"encoding":{"x":{"field":"t","type":"quantitative","axis":{"values":[-100,0,100,200,300],"labels":false,"title":null}},"y":{"field":"ylo","type":"quantitative","axis":{"values":[-4,-2,0,2,4],"title":null,"labelOverlap":false}},"y2":{"field":"yhi"}}},
     {"transform":[{"filter":"datum.kind==='pt'"}],"mark":{"type":"tick","orient":"horizontal","color":"#777","size":9,"thickness":1.5,"clip":true},"encoding":{"x":{"field":"t","type":"quantitative","axis":{"values":[-100,0,100,200,300],"labels":false,"title":null}},"y":{"field":"ylo","type":"quantitative","axis":{"values":[-4,-2,0,2,4],"title":null,"labelOverlap":false}}}},
     {"transform":[{"filter":"datum.kind==='pt'"}],"mark":{"type":"tick","orient":"horizontal","color":"#777","size":9,"thickness":1.5,"clip":true},"encoding":{"x":{"field":"t","type":"quantitative","axis":{"values":[-100,0,100,200,300],"labels":false,"title":null}},"y":{"field":"yhi","type":"quantitative","axis":{"values":[-4,-2,0,2,4],"title":null,"labelOverlap":false}}}},
     {"transform":[{"filter":"datum.kind==='pt'"}],"mark":{"type":"point","filled":true,"shape":"circle","size":110,"stroke":"black","strokeWidth":0.8,"opacity":1,"clip":true},"encoding":{"x":{"field":"t","type":"quantitative","axis":{"values":[-100,0,100,200,300],"labels":false,"title":null}},"y":{"field":"y","type":"quantitative","axis":{"values":[-4,-2,0,2,4],"title":null,"labelOverlap":false}},
       "color":{"field":"model","type":"nominal","scale":{"domain":["OC model","MC model"],"range":["#c5e384","#b01c1c"]},"legend":null}}}
    ]},
   {"width":954,"height":123,"data":{"name":"top"},"transform":[{"filter":"datum.run==='L169237'"}],
    "title":{"text":"L169237","orient":"right","angle":270,"offset":-20},
    "layer":[
     {"transform":[{"filter":"datum.kind==='shade'"}],"mark":{"type":"rect","color":"#eeeeee","clip":true},"encoding":{"x":{"field":"t0","type":"quantitative","scale":{"domain":[-158,330],"nice":false,"zero":false},"axis":{"values":[-100,0,100,200,300],"title":"Time (min)","titlePadding":10,"labelPadding":12}},"x2":{"field":"t1"}}},
     {"transform":[{"filter":"datum.kind==='vline'"}],"mark":{"type":"rule","color":"black","strokeWidth":2,"clip":true},"encoding":{"x":{"field":"t","type":"quantitative","axis":{"values":[-100,0,100,200,300],"title":"Time (min)","titlePadding":10,"labelPadding":12}}}},
     {"transform":[{"filter":"datum.kind==='pt'"}],"mark":{"type":"rule","color":"black","strokeWidth":3.5,"clip":true},"encoding":{"x":{"field":"t0","type":"quantitative","axis":{"values":[-100,0,100,200,300],"title":"Time (min)","titlePadding":10,"labelPadding":12}},"x2":{"field":"t1"},"y":{"field":"y","type":"quantitative","scale":{"domain":[-5.5,5],"nice":false,"zero":false},"axis":{"values":[-4,-2,0,2,4],"title":null,"labelOverlap":false}}}},
     {"transform":[{"filter":"datum.kind==='pt'"}],"mark":{"type":"tick","orient":"vertical","color":"#888","size":9,"thickness":1.5,"clip":true},"encoding":{"x":{"field":"t0","type":"quantitative","axis":{"values":[-100,0,100,200,300],"title":"Time (min)","titlePadding":10,"labelPadding":12}},"y":{"field":"y","type":"quantitative","axis":{"values":[-4,-2,0,2,4],"title":null,"labelOverlap":false}}}},
     {"transform":[{"filter":"datum.kind==='pt'"}],"mark":{"type":"tick","orient":"vertical","color":"#888","size":9,"thickness":1.5,"clip":true},"encoding":{"x":{"field":"t1","type":"quantitative","axis":{"values":[-100,0,100,200,300],"title":"Time (min)","titlePadding":10,"labelPadding":12}},"y":{"field":"y","type":"quantitative","axis":{"values":[-4,-2,0,2,4],"title":null,"labelOverlap":false}}}},
     {"transform":[{"filter":"datum.kind==='pt'"}],"mark":{"type":"rule","color":"black","strokeWidth":1.3,"clip":true},"encoding":{"x":{"field":"t","type":"quantitative","axis":{"values":[-100,0,100,200,300],"title":"Time (min)","titlePadding":10,"labelPadding":12}},"y":{"field":"ylo","type":"quantitative","axis":{"values":[-4,-2,0,2,4],"title":null,"labelOverlap":false}},"y2":{"field":"yhi"}}},
     {"transform":[{"filter":"datum.kind==='pt'"}],"mark":{"type":"tick","orient":"horizontal","color":"#777","size":9,"thickness":1.5,"clip":true},"encoding":{"x":{"field":"t","type":"quantitative","axis":{"values":[-100,0,100,200,300],"title":"Time (min)","titlePadding":10,"labelPadding":12}},"y":{"field":"ylo","type":"quantitative","axis":{"values":[-4,-2,0,2,4],"title":null,"labelOverlap":false}}}},
     {"transform":[{"filter":"datum.kind==='pt'"}],"mark":{"type":"tick","orient":"horizontal","color":"#777","size":9,"thickness":1.5,"clip":true},"encoding":{"x":{"field":"t","type":"quantitative","axis":{"values":[-100,0,100,200,300],"title":"Time (min)","titlePadding":10,"labelPadding":12}},"y":{"field":"yhi","type":"quantitative","axis":{"values":[-4,-2,0,2,4],"title":null,"labelOverlap":false}}}},
     {"transform":[{"filter":"datum.kind==='pt'"}],"mark":{"type":"point","filled":true,"shape":"circle","size":110,"stroke":"black","strokeWidth":0.8,"opacity":1,"clip":true},"encoding":{"x":{"field":"t","type":"quantitative","axis":{"values":[-100,0,100,200,300],"title":"Time (min)","titlePadding":10,"labelPadding":12}},"y":{"field":"y","type":"quantitative","axis":{"values":[-4,-2,0,2,4],"title":null,"labelOverlap":false}},
       "color":{"field":"model","type":"nominal","scale":{"domain":["OC model","MC model"],"range":["#c5e384","#b01c1c"]},"legend":null}}}
    ]}
  ],"spacing":24,"bounds":"flush","resolve":{"scale":{"color":"independent","x":"independent","y":"independent"},"legend":{"color":"independent"}}}
 ],"spacing":0},
 {"hconcat":[
  {"width":488,"height":446,"data":{"name":"left"},
   "mark":{"type":"line","strokeWidth":2.3,"clip":true},
   "encoding":{"x":{"field":"p","type":"quantitative","scale":{"domain":[-60,60],"nice":false},"axis":{"values":[-60,-40,-20,0,20,40,60],"title":"Spin phase (10⁻³)","titlePadding":6,"labelPadding":15}},
    "y":{"field":"v","type":"quantitative","scale":{"domain":[-0.03,1.3],"nice":false,"zero":false},"axis":{"values":[0,0.2,0.4,0.6,0.8,1.0,1.2],"format":".1f","title":"S/N normalized by peak","titlePadding":12,"labelOverlap":false}},
    "color":{"field":"s","type":"nominal","scale":{"domain":["100 min to Q → B","15 min to Q → B"],"range":["#000000","#888888"]},
     "legend":{"title":null,"orient":"top-right","offset":8,"symbolType":"stroke","symbolSize":900,"symbolStrokeWidth":2.5,"labelFontSize":20,"labelOffset":26,"labelLimit":400,"rowPadding":9,"padding":9,"strokeColor":"black","fillColor":"white"}}}},
  {"width":484,"height":446,"data":{"name":"right"},
   "mark":{"type":"line","strokeWidth":2.3,"clip":true},
   "encoding":{"x":{"field":"p","type":"quantitative","scale":{"domain":[-60,60],"nice":false},"axis":{"values":[-60,-40,-20,0,20,40,60],"title":"Spin phase (10⁻³)","titlePadding":6,"labelPadding":15}},
    "y":{"field":"v","type":"quantitative","scale":{"domain":[-0.03,1.3],"nice":false,"zero":false},"axis":{"values":[0,0.2,0.4,0.6,0.8,1.0,1.2],"format":".1f","title":"S/N normalized by peak","titlePadding":12,"labelOverlap":false}},
    "color":{"field":"s","type":"nominal","scale":{"domain":["5 min since Q → B","105 min since Q → B"],"range":["#000000","#888888"]},
     "legend":{"title":null,"orient":"top-right","offset":8,"symbolType":"stroke","symbolSize":900,"symbolStrokeWidth":2.5,"labelFontSize":20,"labelOffset":26,"labelLimit":400,"rowPadding":9,"padding":9,"strokeColor":"black","fillColor":"white"}}}}
 ],"spacing":46,"resolve":{"scale":{"color":"independent","x":"independent","y":"independent"},"legend":{"color":"independent"}}}
],
"spacing":21,
"resolve":{"scale":{"color":"independent","x":"independent","y":"independent"},"legend":{"color":"independent"}}
}
